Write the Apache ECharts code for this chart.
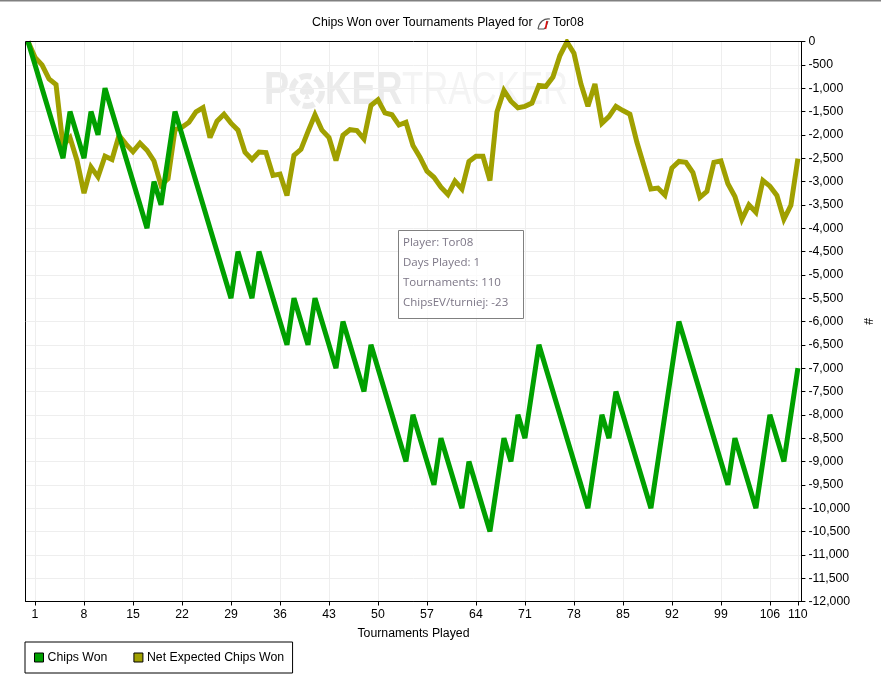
<!DOCTYPE html>
<html><head><meta charset="utf-8">
<style>html,body{margin:0;padding:0;background:#fff}#c{width:881px;height:683px}</style>
<script src="https://cdn.jsdelivr.net/npm/echarts@6/dist/echarts.min.js"></script>
</head><body><div id="c"></div>
<script>
const tournaments = [0,1,2,3,4,5,6,7,8,9,10,11,12,13,14,15,16,17,18,19,20,21,22,23,24,25,26,27,28,29,30,31,32,33,34,35,36,37,38,39,40,41,42,43,44,45,46,47,48,49,50,51,52,53,54,55,56,57,58,59,60,61,62,63,64,65,66,67,68,69,70,71,72,73,74,75,76,77,78,79,80,81,82,83,84,85,86,87,88,89,90,91,92,93,94,95,96,97,98,99,100,101,102,103,104,105,106,107,108,109,110];
const chipsWon = [0,-500,-1000,-1500,-2000,-2500,-1500,-2000,-2500,-1500,-2000,-1000,-1500,-2000,-2500,-3000,-3500,-4000,-3000,-3500,-2500,-1500,-2000,-2500,-3000,-3500,-4000,-4500,-5000,-5500,-4500,-5000,-5500,-4500,-5000,-5500,-6000,-6500,-5500,-6000,-6500,-5500,-6000,-6500,-7000,-6000,-6500,-7000,-7500,-6500,-7000,-7500,-8000,-8500,-9000,-8000,-8500,-9000,-9500,-8500,-9000,-9500,-10000,-9000,-9500,-10000,-10500,-9500,-8500,-9000,-8000,-8500,-7500,-6500,-7000,-7500,-8000,-8500,-9000,-9500,-10000,-9000,-8000,-8500,-7500,-8000,-8500,-9000,-9500,-10000,-9000,-8000,-7000,-6000,-6500,-7000,-7500,-8000,-8500,-9000,-9500,-8500,-9000,-9500,-10000,-9000,-8000,-8500,-9000,-8000,-7000];
const netExpected = [0,-340,-500,-800,-920,-2230,-2060,-2550,-3250,-2690,-2900,-2460,-2530,-2010,-2200,-2360,-2180,-2330,-2560,-3080,-2940,-1890,-1840,-1730,-1510,-1420,-2060,-1710,-1560,-1750,-1900,-2370,-2530,-2370,-2380,-2870,-2840,-3300,-2440,-2310,-1930,-1570,-1900,-2060,-2550,-2010,-1890,-1910,-2090,-1370,-1250,-1530,-1570,-1790,-1730,-2230,-2480,-2780,-2910,-3120,-3280,-2990,-3160,-2570,-2460,-2460,-2980,-1510,-1050,-1280,-1420,-1390,-1320,-940,-960,-760,-300,-10,-250,-910,-1390,-910,-1750,-1610,-1390,-1480,-1560,-2160,-2660,-3160,-3140,-3290,-2710,-2570,-2590,-2810,-3340,-3210,-2590,-2560,-3050,-3320,-3810,-3500,-3660,-2980,-3100,-3300,-3810,-3510,-2510];
const xTicks = [1,8,15,22,29,36,43,50,57,64,71,78,85,92,99,106,110];
const xLabels = [1,8,15,22,29,36,43,50,57,64,71,78,85,92,99,106,110];
const seriesNames = ['Chips Won','Net Expected Chips Won'];
const infoLines = ['Player: Tor08','Days Played: 1','Tournaments: 110','ChipsEV/turniej: -23'];
const FONT = '"Liberation Sans", Arial, sans-serif';
const FS = 12.3;
const zip = (a,b)=>a.map((v,i)=>[v,b[i]]);
const chart = echarts.init(document.getElementById('c'),null,{renderer:'canvas'});
const wm = '#ebebeb', wm2 = '#f4f4f4';
chart.setOption({
  animation:false,
  backgroundColor:'#fff',
  title:{text:'Chips Won over Tournaments Played for      Tor08',left:312,top:17,padding:0,
    textStyle:{fontFamily:FONT,fontSize:FS,fontWeight:'normal',color:'#000'}},
  grid:{left:25.5,right:79.5,top:41.5,bottom:81.5,show:false},
  legend:{left:25,top:642,itemWidth:9,itemHeight:9,itemGap:26,padding:[9.5,8.5,9.5,9],
    borderColor:'#000',borderWidth:1,borderRadius:0,icon:'rect',
    itemStyle:{borderColor:'#000',borderWidth:1},
    textStyle:{fontFamily:FONT,fontSize:FS,color:'#000',padding:[0,0,0,-1]},
    data:seriesNames},
  xAxis:{type:'value',min:-0.36,max:110.5,name:'Tournaments Played',nameLocation:'middle',nameGap:26,
    nameTextStyle:{fontFamily:FONT,fontSize:FS,color:'#000'},
    axisLine:{show:true,onZero:false,lineStyle:{color:'#000'}},
    axisTick:{show:true,length:4,lineStyle:{color:'#000'},customValues:xTicks},
    axisLabel:{color:'#000',fontFamily:FONT,fontSize:FS,margin:7,customValues:xLabels,hideOverlap:false},
    splitLine:{show:true,lineStyle:{color:'#eeeeee',width:1}}},
  yAxis:{type:'value',position:'right',min:-12000,max:0,interval:500,name:'#',nameLocation:'middle',nameGap:55,nameRotate:-90,
    nameTextStyle:{fontFamily:FONT,fontSize:FS,color:'#000'},
    axisLine:{show:true,onZero:false,lineStyle:{color:'#000'}},
    axisTick:{show:true,length:4,lineStyle:{color:'#000'}},
    axisLabel:{color:'#000',fontFamily:FONT,fontSize:FS,margin:7,showMinLabel:true,showMaxLabel:true,
      formatter:v=>v===0?'0':'-'+Math.abs(v).toLocaleString('en-US')},
    splitLine:{show:true,lineStyle:{color:'#eeeeee',width:1}}},
  series:[
    {name:seriesNames[1],type:'line',z:3,data:zip(tournaments,netExpected),showSymbol:false,symbol:'none',
      itemStyle:{color:'#a0a000'},lineStyle:{color:'#a0a000',width:5,join:'miter',miterLimit:3}},
    {name:seriesNames[0],type:'line',z:4,data:zip(tournaments,chipsWon),showSymbol:false,symbol:'none',
      itemStyle:{color:'#00a000'},lineStyle:{color:'#00a000',width:5,join:'miter',miterLimit:3}}
  ],
  graphic:{elements:[
    {type:'rect',silent:true,z:100,shape:{x:0,y:0,width:881,height:1.5},style:{fill:'#808080'}},
    // plot frame, above the grid lines
    {type:'rect',silent:true,z:60,shape:{x:25.5,y:41.5,width:776,height:560},style:{fill:'none',stroke:'#000',lineWidth:1}},
    // title icon
    {type:'bezierCurve',silent:true,z:100,shape:{x1:538,y1:29,cpx1:539,cpy1:22,cpx2:544,cpy2:18,x2:550,y2:19},style:{stroke:'#555',fill:'none',lineWidth:1.1}},
    {type:'polyline',silent:true,z:100,shape:{points:[[538,29],[544,29],[546,27],[548,21]]},style:{stroke:'#555',fill:'none',lineWidth:1.1}},
    {type:'line',silent:true,z:100,shape:{x1:547,y1:21,x2:545.5,y2:29},style:{stroke:'#e01010',lineWidth:1.5}},
    // watermark (behind the series)
    {type:'text',silent:true,z:0,x:264,y:68,scaleX:0.8,style:{text:'P',font:'bold 47px '+FONT,fill:wm}},
    {type:'circle',silent:true,z:0,shape:{cx:307,cy:91,r:15},style:{stroke:wm,lineWidth:6,fill:'none',lineDash:[12,3.7]}},
    {type:'polygon',silent:true,z:0,shape:{points:[[307,81],[311,86],[314,90],[314,93],[311,95],[308,94],[310,99],[304,99],[306,94],[303,95],[300,93],[300,90],[303,86]]},style:{fill:wm}},
    {type:'text',silent:true,z:0,x:325,y:68,scaleX:0.78,style:{text:'KER',font:'bold 47px '+FONT,fill:wm}},
    {type:'text',silent:true,z:0,x:402,y:68,scaleX:0.74,style:{text:'TRACKER',font:'47px '+FONT,fill:wm2}},
    // info box
    {type:'rect',silent:true,z:50,shape:{x:398.5,y:230.5,width:125,height:88},style:{fill:'rgba(255,255,255,0.75)',stroke:'#808080',lineWidth:1}},
    ...infoLines.map((t,i)=>({type:'text',silent:true,z:51,x:403,y:237+i*20,style:{text:t,font:'11.5px "Open Sans", sans-serif',fill:'#7c7686'}}))
  ]}
});
</script></body></html>
